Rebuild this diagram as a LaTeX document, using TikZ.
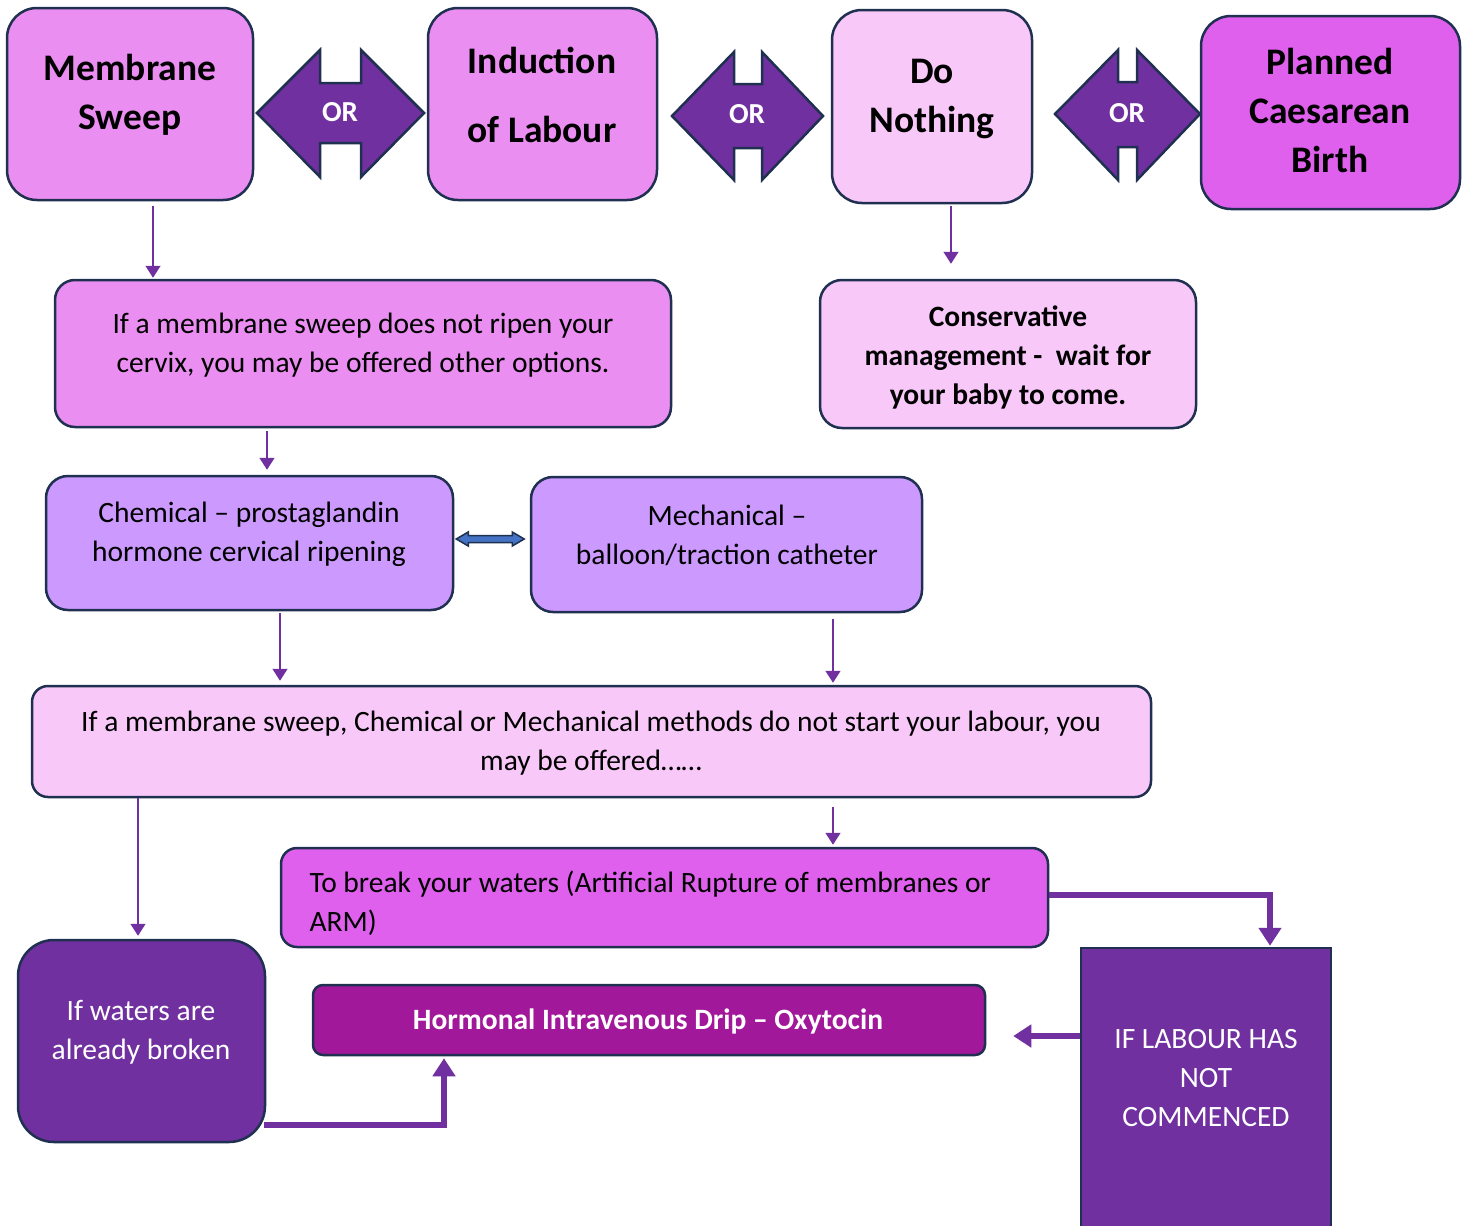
\documentclass[tikz,border=0pt]{standalone}
\usepackage{fontspec}
\setmainfont{Carlito}
\usetikzlibrary{arrows.meta,calc}
\definecolor{pinkA}{HTML}{EA8EF1}
\definecolor{pinkL}{HTML}{F8C8F9}
\definecolor{magA}{HTML}{E060EE}
\definecolor{lavA}{HTML}{CC99FF}
\definecolor{purp}{HTML}{7030A0}
\definecolor{hormc}{HTML}{A1189B}
\definecolor{navy}{HTML}{1F3050}
\definecolor{blueA}{HTML}{4472C4}
\begin{document}
\begin{tikzpicture}[x=1pt,y=-1pt,
 box/.style={draw=navy,line width=2.5pt,inner sep=0pt},
 thinarr/.style={draw=purp,line width=1.5pt,-{Triangle[length=12pt,width=15pt]}},
 thickarr/.style={draw=purp,line width=6pt,-{Triangle[length=18pt,width=22pt]}},
 orshape/.style={fill=purp,draw=navy,line width=2.5pt,line join=miter},
 ortext/.style={text=white,font=\bfseries\fontsize{29}{32}\selectfont},
 bigt/.style={font=\bfseries\fontsize{37.5}{49}\selectfont,align=center},
 bodyt/.style={font=\fontsize{29.5}{39}\selectfont,align=center},
]
\useasboundingbox (0,0) rectangle (1473,1226);
\fill[white] (0,0) rectangle (1473,1226);

% top row boxes
\node[box,fill=pinkA,rounded corners=30pt,minimum width=246pt,minimum height=192pt] (ms) at (130,104) {};
\node[box,fill=pinkA,rounded corners=30pt,minimum width=229pt,minimum height=192pt] (ind) at (542.5,104) {};
\node[box,fill=pinkL,rounded corners=30pt,minimum width=200pt,minimum height=193pt] (dn) at (932,106.5) {};
\node[box,fill=magA,rounded corners=30pt,minimum width=259pt,minimum height=193pt] (pc) at (1330.5,112.5) {};

% OR arrows
\draw[orshape] (257,113) -- (320,50) -- (320,83) -- (361,83) -- (361,50) -- (424,113) -- (361,177) -- (361,143) -- (320,143) -- (320,177) -- cycle;
\draw[orshape] (672,116) -- (734,52) -- (734,84) -- (762,84) -- (762,52) -- (823,116) -- (762,180) -- (762,148) -- (734,148) -- (734,180) -- cycle;
\draw[orshape] (1055,114) -- (1118,50) -- (1118,82) -- (1137,82) -- (1137,50) -- (1200,114) -- (1137,180) -- (1137,147) -- (1118,147) -- (1118,180) -- cycle;
\node[ortext] (or1) at (340,112) {OR};
\node[ortext] (or2) at (747,114) {OR};
\node[ortext] (or3) at (1127,113) {OR};

% other boxes
\node[box,fill=pinkA,rounded corners=20pt,minimum width=616pt,minimum height=147pt] (q1) at (363,353.5) {};
\node[box,fill=pinkL,rounded corners=22pt,minimum width=376pt,minimum height=148pt] (cons) at (1008,354) {};
\node[box,fill=lavA,rounded corners=22pt,minimum width=407pt,minimum height=134pt] (chem) at (249.5,543) {};
\node[box,fill=lavA,rounded corners=22pt,minimum width=391pt,minimum height=135pt] (mech) at (726.5,544.5) {};
\node[box,fill=pinkL,rounded corners=16pt,minimum width=1119pt,minimum height=111pt] (big) at (591.5,741.5) {};
\node[box,fill=magA,rounded corners=16pt,minimum width=767pt,minimum height=99pt] (arm) at (664.5,897.5) {};
\node[box,fill=purp,rounded corners=36pt,minimum width=247pt,minimum height=202pt] (wat) at (141.5,1041) {};
\node[box,fill=hormc,rounded corners=10pt,minimum width=672pt,minimum height=70pt] (horm) at (649,1020) {};
\node[box,fill=purp,minimum width=250pt,minimum height=292pt] (lab) at (1206,1094) {};

% texts
\node[bigt] (ms-t) at (130,95) {Membrane\\Sweep};
\node[bigt,font=\bfseries\fontsize{37.5}{69}\selectfont] (ind-t) at (542,95) {Induction\\of Labour};
\node[bigt] (dn-t) at (932,99) {Do\\Nothing};
\node[bigt] (pc-t) at (1330,110) {Planned\\Caesarean\\Birth};
\node[bodyt] (q1-t) at (363,345) {If a membrane sweep does not ripen your\\cervix, you may be offered other options.};
\node[bodyt,font=\bfseries\fontsize{29.5}{39}\selectfont] (cons-t) at (1008,357) {Conservative\\management -\ \ wait for\\your baby to come.};
\node[bodyt] (chem-t) at (249,534) {Chemical – prostaglandin\\hormone cervical ripening};
\node[bodyt] (mech-t) at (727,535) {Mechanical –\\balloon/traction catheter};
\node[bodyt] (big-t) at (591,743) {If a membrane sweep, Chemical or Mechanical methods do not start your labour, you\\may be offered……};
\node[bodyt,align=left,anchor=west] (arm-t) at (306,903) {To break your waters (Artificial Rupture of membranes or\\ARM)};
\node[bodyt,text=white] (wat-t) at (141,1032) {If waters are\\already broken};
\node[bodyt,text=white,font=\bfseries\fontsize{29.5}{39}\selectfont] (horm-t) at (648,1021) {Hormonal Intravenous Drip – Oxytocin};
\node[bodyt,text=white] (lab-t) at (1206,1078) {IF LABOUR HAS\\NOT\\COMMENCED};

% thin connectors
\draw[thinarr] ([xshift=23pt,yshift=-5pt]ms.south) -- ([xshift=23pt,yshift=1pt]ms.south |- q1.north);
\draw[thinarr] ([xshift=19pt,yshift=-2pt]dn.south) -- ([xshift=19pt,yshift=15pt]dn.south |- cons.north);
\draw[thinarr] ([xshift=-96pt,yshift=-3pt]q1.south) -- ([xshift=17.5pt,yshift=5pt]chem.north);
\draw[thinarr] ([xshift=30.5pt,yshift=-2pt]chem.south) -- ([xshift=30.5pt,yshift=4pt]chem.south |- big.north);
\draw[thinarr] ([xshift=106.5pt,yshift=-6pt]mech.south) -- ([xshift=106.5pt,yshift=2pt]mech.south |- big.north);
\draw[thinarr] ([xshift=-453.5pt]big.south) -- ([xshift=-453.5pt,yshift=3pt]big.south |- wat.north);
\draw[thinarr] ([xshift=241.5pt,yshift=-9pt]big.south) -- ([xshift=241.5pt,yshift=2pt]big.south |- arm.north);

% double arrow between chemical and mechanical
\coordinate (dl) at ([xshift=2pt,yshift=4pt]chem.east);
\draw[fill=blueA,draw=navy,line width=1.5pt,line join=miter] (dl) -- ++(12,-7) -- ++(0,3.5) -- ++(44,0) -- ++(0,-3.5) -- ++(12,7) -- ++(-12,7) -- ++(0,-3.5) -- ++(-44,0) -- ++(0,3.5) -- cycle;

% thick connectors
\draw[thickarr] ([yshift=2.5pt]arm.east) -| ([xshift=64pt,yshift=1pt]lab.north);
\draw[thickarr] ([yshift=58pt]lab.west) -- ([xshift=27pt,yshift=-16pt]horm.east);
\draw[thickarr] ([xshift=-2pt,yshift=-84pt]wat.east) -| ([xshift=-205pt,yshift=-2pt]horm.south);
\end{tikzpicture}
\end{document}
